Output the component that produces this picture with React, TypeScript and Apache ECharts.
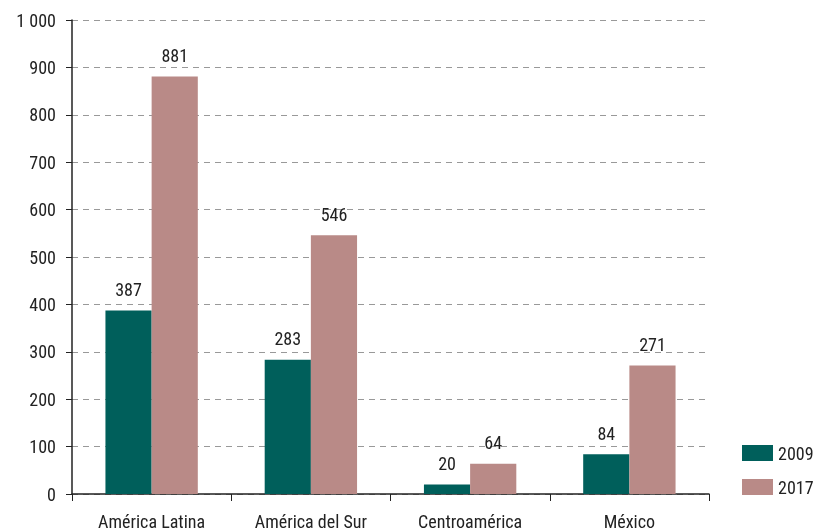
import React, { useEffect, useRef } from "react";
import * as echarts from "echarts";

const categories = ["América Latina", "América del Sur", "Centroamérica", "México"];
const series2009 = [387, 283, 20, 84];
const series2017 = [881, 546, 64, 271];
const seriesNames = ["2009", "2017"];

const FONT = "'Roboto Condensed', 'Liberation Sans Narrow', 'DejaVu Sans Condensed', Roboto, sans-serif";
const FS = 18;

export default function App() {
  const ref = useRef<HTMLDivElement>(null);
  useEffect(() => {
    if (!ref.current) return;
    const chart = echarts.init(ref.current, null, { renderer: "svg" });
    const labelStyle = { show: true, position: "top" as const, color: "#222", fontSize: FS, fontFamily: FONT, distance: 12 };
    chart.setOption({
      animation: false,
      textStyle: { fontFamily: FONT },
      grid: { left: 72, top: 20, right: 110, bottom: 37 },
      legend: {
        orient: "vertical",
        left: 742,
        top: 444,
        padding: 0,
        itemWidth: 31,
        itemHeight: 16,
        itemGap: 16,
        itemStyle: { borderWidth: 0 },
        icon: "rect",
        textStyle: { fontSize: FS, color: "#222", fontFamily: FONT, padding: [0, 0, 0, 0] },
        data: seriesNames,
      },
      xAxis: {
        type: "category",
        data: categories,
        axisLine: { lineStyle: { color: "#222", width: 1.5 } },
        axisTick: { show: true, length: 7, lineStyle: { color: "#222" } },
        axisLabel: { color: "#222", fontSize: FS, margin: 18, fontFamily: FONT },
      },
      yAxis: {
        type: "value",
        min: 0,
        max: 1000,
        interval: 100,
        axisLine: { show: true, lineStyle: { color: "#222", width: 1.5 } },
        axisTick: { show: true, length: 6, lineStyle: { color: "#222" } },
        axisLabel: {
          color: "#222",
          fontSize: FS,
          margin: 16,
          fontFamily: FONT,
          formatter: (v: number) => (v >= 1000 ? String(v).replace(/\B(?=(\d{3})+(?!\d))/g, " ") : String(v)),
        },
        splitLine: { show: true, lineStyle: { type: [6, 5], color: "#999", width: 1 } },
      },
      series: [
        {
          name: seriesNames[0],
          type: "bar",
          data: series2009,
          itemStyle: { color: "#005f5b" },
          barGap: "0%",
          barCategoryGap: "42%",
          label: labelStyle,
        },
        {
          name: seriesNames[1],
          type: "bar",
          data: series2017,
          itemStyle: { color: "#b98a87" },
          barGap: "0%",
          barCategoryGap: "42%",
          label: labelStyle,
        },
      ],
    });
    return () => chart.dispose();
  }, []);
  return <div ref={ref} style={{ position: "fixed", left: 0, top: 0, width: 819, height: 531 }} />;
}
